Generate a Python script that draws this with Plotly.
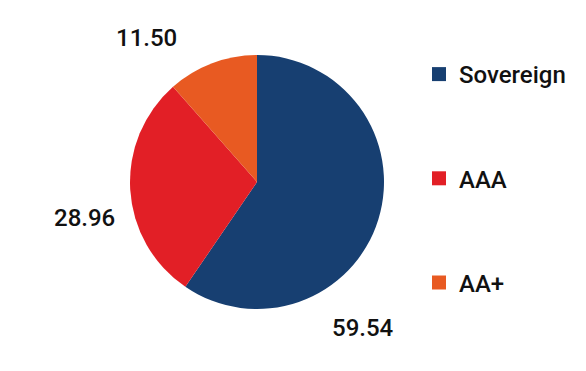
import plotly.graph_objects as go

# ---- data ----
categories = ["Sovereign", "AAA", "AA+"]
values = [59.54, 28.96, 11.50]

# ---- style ----
colors = ["#173f71", "#e21f26", "#e85a22"]
FONT = "Roboto, Arial, sans-serif"
W, H = 586, 371
cx, cy, R = 257, 182, 127          # pie centre / radius in pixels
# label anchor offsets from pie centre (pixels, layout only)
label_offsets = [(106, 146), (-173, 36), (-111, -144)]

fig = go.Figure()
fig.add_trace(go.Pie(
    labels=categories, values=values, sort=False, direction="clockwise",
    rotation=0, marker=dict(colors=colors, line=dict(width=0)),
    textinfo="none", hoverinfo="label+value", showlegend=False,
    domain=dict(x=[(cx - R) / W, (cx + R) / W],
                y=[(H - cy - R) / H, (H - cy + R) / H]),
))

# legend entries as dummy traces so spacing can be controlled
for i, (c, col) in enumerate(zip(categories, colors)):
    fig.add_trace(go.Scatter(
        x=[None], y=[None], mode="markers", name=c,
        marker=dict(symbol="square", size=14, color=col),
        legendgroup=f"g{i}", showlegend=True,
    ))

for v, (dx, dy) in zip(values, label_offsets):
    fig.add_annotation(
        x=(cx + dx) / W, y=(H - cy - dy) / H, xref="paper", yref="paper",
        text=f"{v:.2f}", showarrow=False, xanchor="center", yanchor="middle",
        font=dict(family=FONT, size=24, color="#111111", weight=500),
    )

fig.update_layout(
    width=W, height=H,
    margin=dict(l=0, r=0, t=0, b=0),
    paper_bgcolor="white", plot_bgcolor="white",
    xaxis=dict(visible=False), yaxis=dict(visible=False),
    font=dict(family=FONT, size=24, color="#111111"),
    legend=dict(x=419 / W, y=(H - 52) / H, xanchor="left", yanchor="top",
                traceorder="grouped", tracegroupgap=70,
                font=dict(family=FONT, size=24, color="#111111", weight=500),
                bgcolor="rgba(0,0,0,0)"),
    showlegend=True,
)

fig.write_html("out.html", config={"displayModeBar": False},
               post_script="document.body.style.margin='0px';")
